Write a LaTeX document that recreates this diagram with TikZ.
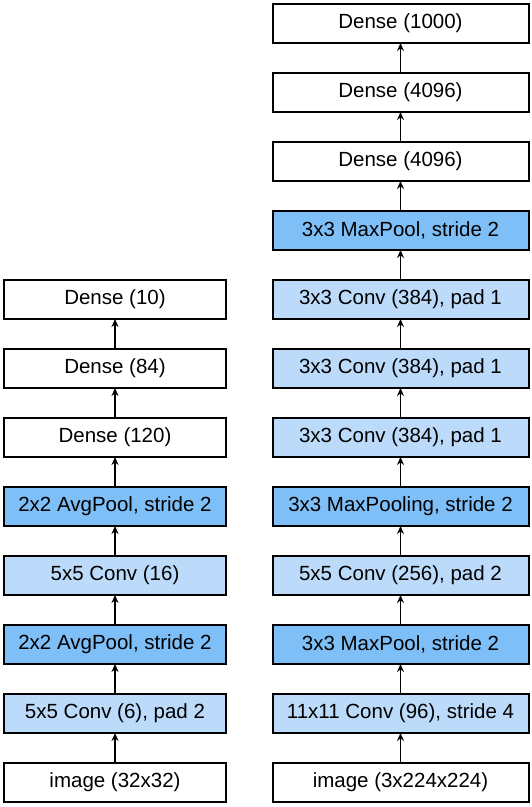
\documentclass[tikz,border=0pt]{standalone}
\usepackage{fontspec}
\setmainfont{Liberation Sans}
\usepackage{tikz}
\usetikzlibrary{positioning,arrows.meta}
\definecolor{convblue}{HTML}{BCDBFA}
\definecolor{poolblue}{HTML}{7FBFF7}

\begin{document}
\begin{tikzpicture}[x=1pt,y=1pt,
  layer/.style={draw, line width=2pt, fill=white, minimum height=39pt, inner sep=0pt, outer sep=0pt, font=\fontsize{20.5}{24}\selectfont},
  lenet/.style={layer, minimum width=222pt},
  alex/.style={layer, minimum width=256pt},
  convlayer/.style={fill=convblue},
  poollayer/.style={fill=poolblue},
  flow/.style={-{Stealth[length=8pt,width=7pt]}, line width=1.8pt},
  node distance=30pt]
\useasboundingbox (0,0) rectangle (531,-807);
% LeNet
\node[lenet] (limg) at (115,-782.5) {image (32x32)};
\node[lenet, convlayer, above=of limg] (lconva) {5x5 Conv (6), pad 2};
\node[lenet, poollayer, above=of lconva] (lpoola) {2x2 AvgPool, stride 2};
\node[lenet, convlayer, above=of lpoola] (lconvb) {5x5 Conv (16)};
\node[lenet, poollayer, above=of lconvb] (lpoolb) {2x2 AvgPool, stride 2};
\node[lenet, above=of lpoolb] (ldensea) {Dense (120)};
\node[lenet, above=of ldensea] (ldenseb) {Dense (84)};
\node[lenet, above=of ldenseb] (ldensec) {Dense (10)};
% AlexNet
\node[alex] (aimg) at (400.5,-782.5) {image (3x224x224)};
\node[alex, convlayer, above=of aimg] (aconva) {11x11 Conv (96), stride 4};
\node[alex, poollayer, above=of aconva] (apoola) {3x3 MaxPool, stride 2};
\node[alex, convlayer, above=of apoola] (aconvb) {5x5 Conv (256), pad 2};
\node[alex, poollayer, above=of aconvb] (apoolb) {3x3 MaxPooling, stride 2};
\node[alex, convlayer, above=of apoolb] (aconvc) {3x3 Conv (384), pad 1};
\node[alex, convlayer, above=of aconvc] (aconvd) {3x3 Conv (384), pad 1};
\node[alex, convlayer, above=of aconvd] (aconve) {3x3 Conv (384), pad 1};
\node[alex, poollayer, above=of aconve] (apoolc) {3x3 MaxPool, stride 2};
\node[alex, above=of apoolc] (adensea) {Dense (4096)};
\node[alex, above=of adensea] (adenseb) {Dense (4096)};
\node[alex, above=of adenseb] (adensec) {Dense (1000)};
% arrows
\foreach \a/\b in {limg/lconva, lconva/lpoola, lpoola/lconvb, lconvb/lpoolb, lpoolb/ldensea, ldensea/ldenseb, ldenseb/ldensec,
  aimg/aconva, aconva/apoola, apoola/aconvb, aconvb/apoolb, apoolb/aconvc, aconvc/aconvd, aconvd/aconve, aconve/apoolc, apoolc/adensea, adensea/adenseb, adenseb/adensec}
  \draw[flow] (\a.north) -- (\b.south);
\end{tikzpicture}
\end{document}
